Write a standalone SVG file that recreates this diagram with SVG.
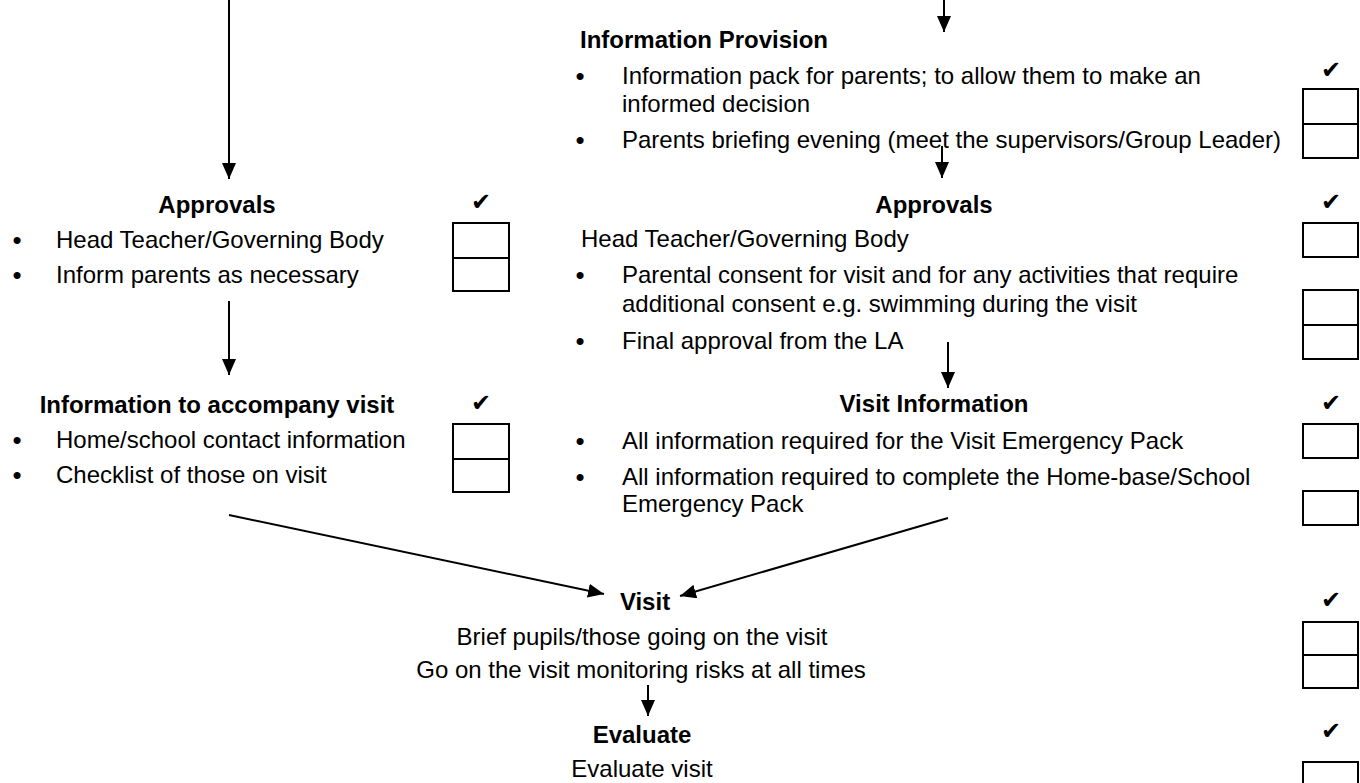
<svg xmlns="http://www.w3.org/2000/svg" width="1360" height="783" viewBox="0 0 1360 783">
<style>
text{font-family:"Liberation Sans",Arial,sans-serif;font-size:24px;fill:#000}
.b{font-weight:bold}
.m{text-anchor:middle}
.bul{text-anchor:middle;font-size:26px}
.chk{font-family:"DejaVu Sans",sans-serif;font-size:24px;text-anchor:middle}
.box{fill:#fff;stroke:#000;stroke-width:2}
.ln{stroke:#000;stroke-width:2;fill:none;marker-end:url(#ah)}
</style>
<defs>
<marker id="ah" markerUnits="userSpaceOnUse" markerWidth="16" markerHeight="14" refX="16" refY="7" orient="auto">
<path d="M0,0 L16,7 L0,14 z" fill="#000"/>
</marker>
</defs>
<rect width="1360" height="783" fill="#fff"/>

<g id="connectors">
<line class="ln" x1="229" y1="0" x2="229" y2="179"/>
<line class="ln" x1="229" y1="301" x2="229" y2="375"/>
<line class="ln" x1="944" y1="0" x2="944" y2="32"/>
<line class="ln" x1="942" y1="146" x2="942" y2="178"/>
<line class="ln" x1="948" y1="342" x2="948" y2="388"/>
<line class="ln" x1="229" y1="515" x2="604" y2="594"/>
<line class="ln" x1="948" y1="518" x2="680" y2="596"/>
<line class="ln" x1="648" y1="685" x2="648" y2="716"/>
</g>

<g id="approvals-left">
<text class="b m" x="217" y="213">Approvals</text>
<text class="bul" x="17" y="249">•</text>
<text x="56" y="248">Head Teacher/Governing Body</text>
<text class="bul" x="17" y="284">•</text>
<text x="56" y="283">Inform parents as necessary</text>
<text class="chk" x="481" y="210">✔</text>
<rect class="box" x="453" y="223" width="56" height="35"/>
<rect class="box" x="453" y="258" width="56" height="33"/>
</g>

<g id="info-accompany">
<text class="b m" x="217" y="413">Information to accompany visit</text>
<text class="bul" x="17" y="449">•</text>
<text x="56" y="448">Home/school contact information</text>
<text class="bul" x="17" y="484">•</text>
<text x="56" y="483">Checklist of those on visit</text>
<text class="chk" x="481" y="411">✔</text>
<rect class="box" x="453" y="424" width="56" height="35"/>
<rect class="box" x="453" y="459" width="56" height="33"/>
</g>

<g id="info-provision">
<text class="b" x="580" y="48">Information Provision</text>
<text class="bul" x="580" y="85">•</text>
<text x="622" y="84">Information pack for parents; to allow them to make an</text>
<text x="622" y="112">informed decision</text>
<text class="bul" x="580" y="149">•</text>
<text x="622" y="148">Parents briefing evening (meet the supervisors/Group Leader)</text>
<text class="chk" x="1331" y="78">✔</text>
<rect class="box" x="1303" y="89" width="55" height="35"/>
<rect class="box" x="1303" y="124" width="55" height="34"/>
</g>

<g id="approvals-right">
<text class="b m" x="934" y="213">Approvals</text>
<text x="581" y="247">Head Teacher/Governing Body</text>
<text class="bul" x="580" y="284">•</text>
<text x="622" y="283">Parental consent for visit and for any activities that require</text>
<text x="622" y="312">additional consent e.g. swimming during the visit</text>
<text class="bul" x="580" y="350">•</text>
<text x="622" y="349">Final approval from the LA</text>
<text class="chk" x="1331" y="210">✔</text>
<rect class="box" x="1303" y="223" width="55" height="34"/>
<rect class="box" x="1303" y="290" width="55" height="35"/>
<rect class="box" x="1303" y="325" width="55" height="34"/>
</g>

<g id="visit-information">
<text class="b m" x="934" y="412">Visit Information</text>
<text class="bul" x="580" y="450">•</text>
<text x="622" y="449">All information required for the Visit Emergency Pack</text>
<text class="bul" x="580" y="486">•</text>
<text x="622" y="485">All information required to complete the Home-base/School</text>
<text x="622" y="512">Emergency Pack</text>
<text class="chk" x="1331" y="411">✔</text>
<rect class="box" x="1303" y="424" width="55" height="34"/>
<rect class="box" x="1303" y="491" width="55" height="34"/>
</g>

<g id="visit">
<text class="b m" x="645" y="610">Visit</text>
<text class="m" x="642" y="645">Brief pupils/those going on the visit</text>
<text class="m" x="641" y="678">Go on the visit monitoring risks at all times</text>
<text class="chk" x="1331" y="608">✔</text>
<rect class="box" x="1303" y="622" width="55" height="33"/>
<rect class="box" x="1303" y="655" width="55" height="33"/>
</g>

<g id="evaluate">
<text class="b m" x="642" y="743">Evaluate</text>
<text class="m" x="642" y="777">Evaluate visit</text>
<text class="chk" x="1331" y="739">✔</text>
<rect class="box" x="1303" y="762" width="55" height="30"/>
</g>
</svg>
